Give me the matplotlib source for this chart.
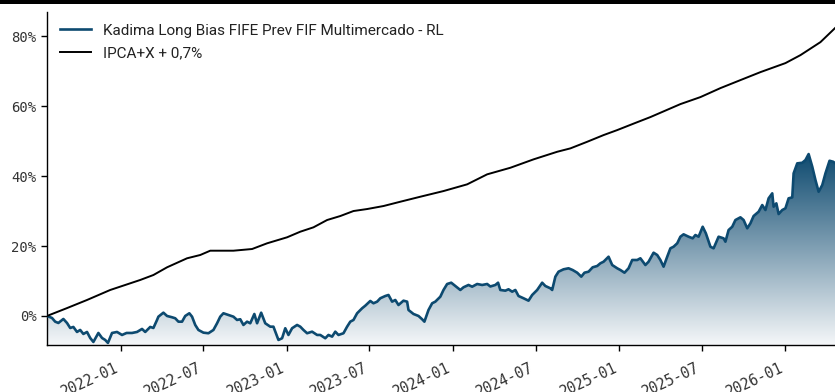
import numpy as np
import pandas as pd
import matplotlib
matplotlib.use("Agg")
import matplotlib.pyplot as plt
import matplotlib.dates as mdates
from matplotlib.colors import LinearSegmentedColormap
from matplotlib.patches import Polygon, Rectangle
from matplotlib.ticker import FuncFormatter

# Cumulative return of the fund (%)
fund_dates = [
    "2021-07-22", "2021-08-02", "2021-08-09", "2021-08-16", "2021-08-27", "2021-09-04", "2021-09-11", "2021-09-18", "2021-09-26", "2021-10-03",
    "2021-10-10", "2021-10-18", "2021-10-25", "2021-11-01", "2021-11-12", "2021-11-20", "2021-11-27", "2021-12-03", "2021-12-12", "2021-12-23",
    "2022-01-03", "2022-01-13", "2022-01-25", "2022-02-05", "2022-02-16", "2022-02-23", "2022-03-06", "2022-03-13", "2022-03-21", "2022-03-24",
    "2022-04-04", "2022-04-12", "2022-04-23", "2022-04-30", "2022-05-07", "2022-05-15", "2022-05-22", "2022-05-31", "2022-06-06", "2022-06-13",
    "2022-06-20", "2022-07-01", "2022-07-12", "2022-07-23", "2022-07-31", "2022-08-07", "2022-08-14", "2022-08-25", "2022-09-05", "2022-09-13",
    "2022-09-20", "2022-09-27", "2022-10-05", "2022-10-12", "2022-10-21", "2022-10-27", "2022-11-05", "2022-11-14", "2022-11-25", "2022-12-02",
    "2022-12-13", "2022-12-21", "2022-12-28", "2023-01-04", "2023-01-12", "2023-01-23", "2023-01-30", "2023-02-06", "2023-02-14", "2023-02-25",
    "2023-03-08", "2023-03-15", "2023-03-26", "2023-04-02", "2023-04-10", "2023-04-17", "2023-04-24", "2023-05-05", "2023-05-13", "2023-05-20",
    "2023-05-27", "2023-06-04", "2023-06-15", "2023-06-22", "2023-07-03", "2023-07-10", "2023-07-18", "2023-07-25", "2023-08-05", "2023-08-12",
    "2023-08-20", "2023-08-27", "2023-09-03", "2023-09-14", "2023-09-22", "2023-09-25", "2023-10-06", "2023-10-17", "2023-10-25", "2023-10-30",
    "2023-11-08", "2023-11-16", "2023-11-23", "2023-12-04", "2023-12-11", "2023-12-19", "2023-12-28", "2024-01-06", "2024-01-17", "2024-01-24",
    "2024-02-04", "2024-02-12", "2024-02-23", "2024-03-05", "2024-03-16", "2024-03-23", "2024-04-03", "2024-04-09", "2024-04-14", "2024-04-25",
    "2024-05-02", "2024-05-10", "2024-05-17", "2024-05-24", "2024-06-04", "2024-06-15", "2024-06-23", "2024-07-04", "2024-07-15", "2024-07-22",
    "2024-08-02", "2024-08-06", "2024-08-13", "2024-08-20", "2024-08-31", "2024-09-11", "2024-09-20", "2024-09-30", "2024-10-09", "2024-10-16",
    "2024-10-25", "2024-11-03", "2024-11-13", "2024-11-20", "2024-11-27", "2024-12-08", "2024-12-16", "2024-12-27", "2025-01-03", "2025-01-12",
    "2025-01-21", "2025-01-29", "2025-02-09", "2025-02-16", "2025-02-27", "2025-03-06", "2025-03-17", "2025-03-25", "2025-04-01", "2025-04-08",
    "2025-04-16", "2025-04-23", "2025-04-30", "2025-05-08", "2025-05-15", "2025-05-22", "2025-06-02", "2025-06-11", "2025-06-17", "2025-06-24",
    "2025-07-03", "2025-07-10", "2025-07-20", "2025-07-27", "2025-08-07", "2025-08-18", "2025-08-22", "2025-08-29", "2025-09-06", "2025-09-13",
    "2025-09-24", "2025-10-01", "2025-10-09", "2025-10-16", "2025-10-23", "2025-11-03", "2025-11-11", "2025-11-18", "2025-11-25", "2025-12-03",
    "2025-12-06", "2025-12-12", "2025-12-17", "2025-12-25", "2026-01-01", "2026-01-08", "2026-01-16", "2026-01-19", "2026-01-27", "2026-02-07",
    "2026-02-14", "2026-02-21", "2026-03-01", "2026-03-08", "2026-03-15", "2026-03-23", "2026-03-30", "2026-04-08", "2026-04-16", "2026-04-20",
]
fund_pct = [
    0.0, -0.57, -1.63, -2.0, -0.86, -2.0, -3.43, -3.14, -4.57, -4.0,
    -5.14, -4.57, -6.29, -7.43, -4.86, -6.29, -6.86, -7.71, -4.86, -4.57,
    -5.43, -4.86, -4.86, -4.57, -3.71, -4.57, -3.14, -3.43, -1.14, -0.2,
    0.94, 0.0, -0.37, -0.66, -1.63, -1.63, 0.0, 0.77, -0.2, -2.57,
    -4.0, -4.77, -4.94, -4.0, -2.09, -0.2, 0.77, 0.29, -0.2, -1.14,
    -0.94, -2.57, -1.63, -2.09, 0.57, -2.09, 0.94, -2.09, -3.06, -3.06,
    -6.86, -6.37, -3.51, -5.43, -3.51, -2.57, -3.06, -4.0, -4.94, -4.49,
    -5.43, -5.43, -6.37, -5.43, -5.91, -4.49, -5.43, -4.94, -3.06, -1.63,
    -1.14, 0.77, 2.2, 2.94, 4.29, 3.63, 4.09, 5.06, 5.71, 6.0,
    4.09, 4.57, 3.14, 4.37, 4.09, 1.71, 0.57, 0.0, -0.94, -1.63,
    1.71, 3.63, 4.09, 5.51, 7.43, 9.14, 9.51, 8.57, 7.43, 8.2,
    8.86, 8.37, 9.14, 8.86, 9.14, 8.43, 8.86, 9.51, 7.43, 7.23,
    7.63, 6.94, 7.43, 5.71, 5.06, 4.37, 6.0, 7.43, 9.51, 8.57,
    7.91, 7.43, 11.23, 12.66, 13.34, 13.63, 13.14, 12.37, 11.23, 12.37,
    12.66, 13.91, 14.29, 15.06, 15.51, 16.94, 14.57, 13.63, 13.14, 12.37,
    13.63, 16.0, 16.0, 16.49, 14.57, 15.51, 18.09, 17.43, 16.0, 14.09,
    16.94, 19.34, 19.8, 20.77, 22.66, 23.34, 22.66, 22.2, 23.14, 22.66,
    25.51, 23.63, 19.8, 19.34, 22.66, 22.2, 21.23, 24.57, 25.51, 27.43,
    28.2, 27.43, 25.06, 26.49, 28.57, 29.8, 31.71, 30.29, 33.63, 35.06,
    31.23, 32.2, 29.14, 30.29, 30.77, 33.63, 33.91, 40.77, 43.63, 43.8,
    44.57, 46.29, 42.66, 38.86, 35.51, 37.43, 40.77, 44.37, 44.09, 43.71,
]

# Cumulative return of the benchmark (%)
bench_dates = [
    "2021-07-22", "2021-09-03", "2021-10-18", "2021-12-08", "2022-02-12", "2022-03-13", "2022-04-12", "2022-05-26", "2022-06-24", "2022-07-16",
    "2022-09-05", "2022-10-16", "2022-11-18", "2023-01-01", "2023-01-30", "2023-02-28", "2023-03-30", "2023-04-28", "2023-05-27", "2023-06-26",
    "2023-08-01", "2023-09-07", "2023-10-21", "2023-12-11", "2024-02-01", "2024-03-16", "2024-05-06", "2024-06-26", "2024-08-17", "2024-09-15",
    "2024-10-22", "2024-11-27", "2024-12-27", "2025-02-04", "2025-03-10", "2025-05-15", "2025-06-28", "2025-08-11", "2025-09-24", "2025-11-07",
    "2026-01-01", "2026-02-03", "2026-03-19", "2026-04-20",
]
bench_pct = [
    0.0, 2.2, 4.57, 7.43, 10.29, 11.71, 13.91, 16.49, 17.43, 18.66,
    18.66, 19.14, 20.77, 22.49, 24.09, 25.34, 27.43, 28.57, 30.0, 30.57,
    31.43, 32.66, 34.09, 35.71, 37.63, 40.49, 42.37, 44.77, 46.94, 47.91,
    49.8, 51.71, 53.14, 55.14, 56.86, 60.57, 62.57, 65.14, 67.43, 69.71,
    72.29, 74.57, 78.29, 82.29,
]

fund_label = "Kadima Long Bias FIFE Prev FIF Multimercado - RL"
bench_label = "IPCA+X + 0,7%"
y_ticks = [0, 20, 40, 60, 80]

FUND_COLOR = "#0d4a70"

fund_x = mdates.date2num(pd.to_datetime(fund_dates))
bench_x = mdates.date2num(pd.to_datetime(bench_dates))
fund_y = np.array(fund_pct)

fig = plt.figure(figsize=(8.35, 3.92), dpi=100)
ax = fig.add_axes([47 / 835, 1 - 345 / 392, 1 - 47 / 835, (345 - 12) / 392])

y_lo, y_hi = -8.3, 86.9
x_lo, x_hi = fund_x[0], fund_x[-1]

# vertical gradient under the fund curve
cmap = LinearSegmentedColormap.from_list("fade", ["#f5f7f9", "#0f4b70"])
grad = np.linspace(0, 1, 256).reshape(-1, 1)
img = ax.imshow(grad, extent=[x_lo, x_hi, y_lo, fund_y.max()], origin="lower",
                aspect="auto", cmap=cmap, zorder=1, interpolation="bilinear")
verts = [(x_lo, y_lo)] + list(zip(fund_x, fund_y)) + [(x_hi, y_lo)]
clip = Polygon(verts, closed=True, transform=ax.transData, facecolor="none", edgecolor="none")
ax.add_patch(clip)
img.set_clip_path(clip)

ax.plot(fund_x, fund_y, color=FUND_COLOR, lw=1.9, zorder=3, label=fund_label)
ax.plot(bench_x, bench_pct, color="black", lw=1.4, zorder=3, label=bench_label)

ax.set_xlim(x_lo, x_hi)
ax.set_ylim(y_lo, y_hi)

for s in ("top", "right"):
    ax.spines[s].set_visible(False)
for s in ("left", "bottom"):
    ax.spines[s].set_linewidth(1.0)

ax.set_yticks(y_ticks)
ax.yaxis.set_major_formatter(FuncFormatter(lambda v, p: f"{v:.0f}%"))
ax.xaxis.set_major_locator(mdates.MonthLocator(bymonth=[1, 7]))
ax.xaxis.set_major_formatter(mdates.DateFormatter("%Y-%m"))
ax.tick_params(axis="both", length=4, width=1, colors="black", labelcolor="#333333")
ax.tick_params(axis="y", labelsize=10)
ax.tick_params(axis="x", labelsize=10.5, pad=7)
for lab in ax.get_yticklabels():
    lab.set_fontfamily("DejaVu Sans Mono")
for lab in ax.get_xticklabels():
    lab.set_fontfamily("DejaVu Sans Mono")
    lab.set_rotation(25)
    lab.set_ha("right")

leg = ax.legend(loc="upper left", frameon=False, prop={"family": "Roboto", "size": 11},
                handlelength=2.0, borderaxespad=0.36, labelspacing=0.6,
                bbox_to_anchor=(0.002, 1.0))
for t in leg.get_texts():
    t.set_color("#222222")

# dark band along the top edge
fig.patches.append(Rectangle((0, 1 - 4 / 392), 1, 4 / 392, transform=fig.transFigure,
                             facecolor="black", edgecolor="none", zorder=10))

fig.savefig("out.png", dpi=100)
